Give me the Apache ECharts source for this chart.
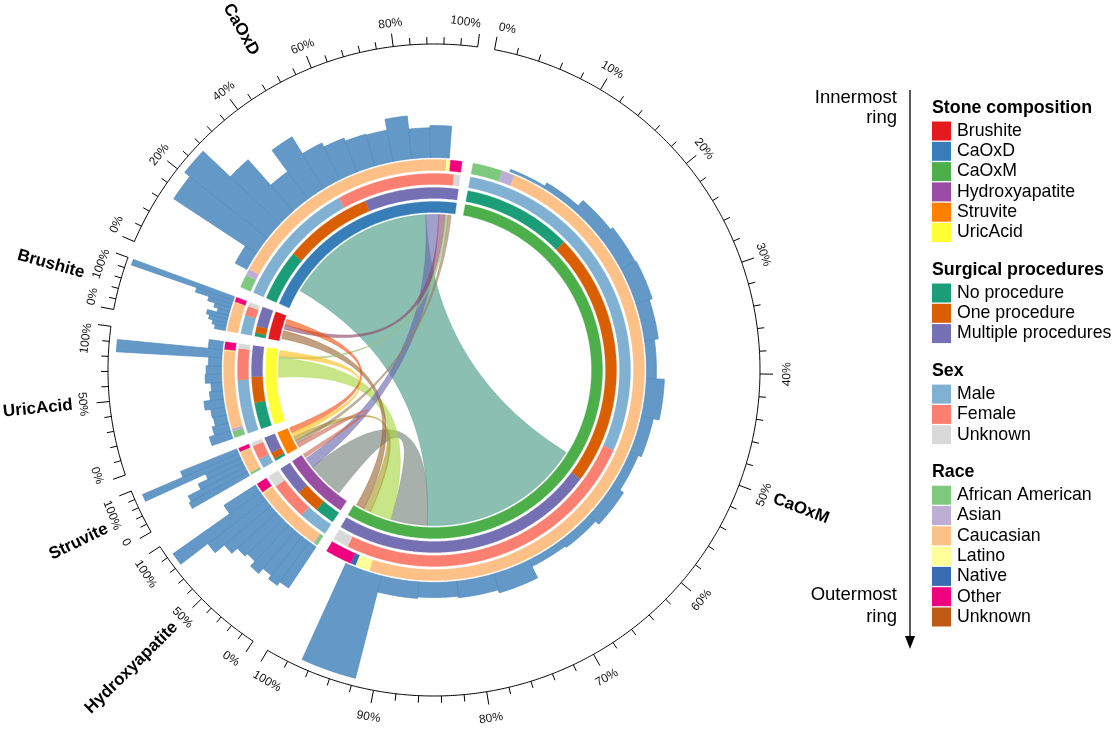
<!DOCTYPE html>
<html>
<head>
<meta charset="utf-8">
<script src="https://cdn.jsdelivr.net/npm/echarts@6/dist/echarts.min.js"></script>
<style>html,body{margin:0;padding:0;background:#fff}#c{width:1116px;height:735px}</style>
</head>
<body>
<div id="c"></div>
<script>
// ---------------- DATA ----------------
const sectors = ['CaOxM', 'Hydroxyapatite', 'Struvite', 'UricAcid', 'Brushite', 'CaOxD'];
const sectorSize = [200, 23.5, 8, 26.5, 9.5, 74.5];

const stoneCats = ['Brushite', 'CaOxD', 'CaOxM', 'Hydroxyapatite', 'Struvite', 'UricAcid'];
const stoneColors = ['#e41a1c', '#377eb8', '#4daf4a', '#984ea3', '#ff7f00', '#ffff33'];
const procCats = ['No procedure', 'One procedure', 'Multiple procedures'];
const procColors = ['#1b9e77', '#d95f02', '#7570b3'];
const sexCats = ['Male', 'Female', 'Unknown'];
const sexColors = ['#80b1d3', '#fb8072', '#d9d9d9'];
const raceCats = ['African American', 'Asian', 'Caucasian', 'Latino', 'Native', 'Other', 'Unknown'];
const raceColors = ['#7fc97f', '#beaed4', '#fdc086', '#ffff99', '#386cb0', '#f0027f', '#bf5b17'];

// shares (% of sector, clockwise) per sector, same order as `sectors`: [categoryIndex, share]
const procShares = [
  [[0, 17.4], [1, 40.6], [2, 42.0]],
  [[0, 27], [1, 33], [2, 40]],
  [[0, 10], [1, 25], [2, 65]],
  [[0, 32], [1, 31], [2, 37]],
  [[0, 11], [1, 23], [2, 66]],
  [[0, 22], [1, 38], [2, 40]]
];
const sexShares = [
  [[0, 51.7], [1, 46.0], [2, 2.3]],
  [[0, 37], [1, 48], [2, 15]],
  [[0, 35], [1, 53], [2, 12]],
  [[0, 60], [1, 35], [2, 5]],
  [[0, 58], [1, 29], [2, 13]],
  [[0, 50.8], [1, 46.7], [2, 2.5]]
];
const raceShares = [
  [[0, 4.1], [1, 1.8], [2, 87.7], [3, 2.0], [4, 0.7], [5, 3.7]],
  [[0, 4], [1, 1.5], [2, 81.5], [3, 1.5], [5, 11.5]],
  [[0, 8], [2, 77], [3, 2], [5, 13]],
  [[0, 7], [1, 3], [2, 81], [3, 1], [5, 8]],
  [[2, 87], [5, 13]],
  [[0, 4.8], [1, 2.5], [2, 86.9], [3, 1.5], [5, 4.3]]
];

// outer bar track: bin width (% of sector) and bar heights (% of track)
const barBinWidth = [5.1, 10, 16.667, 8.333, 11.11, 6.8];
const barValues = [
  [0, 2, 5.5, 12, 14.5, 15.5, 12.7, 9, 16.4, 11, 8, 12, 8, 6.4, 17.9, 15, 13.6, 15, 96, 0],
  [45, 49, 45, 51, 45, 48, 55, 66, 97, 34],
  [60, 58, 45, 35, 95, 55],
  [20, 15, 12, 13, 18, 12, 10, 15, 14, 12, 96, 13],
  [10, 13, 17, 20, 11, 15, 22, 35, 98],
  [0, 12, 90, 96, 62, 31, 55, 37, 33, 30, 29, 39, 27, 29, 0]
];

// links: [sectorA, fromPct, toPct, sectorB, fromPct, toPct]
const links = [
  ['CaOxM', 55.6, 85.9, 'CaOxD', 10, 85.5],
  ['CaOxM', 85.9, 92.7, 'Hydroxyapatite', 17, 75],
  ['CaOxM', 92.7, 96.7, 'UricAcid', 61, 87.5],
  ['CaOxM', 96.7, 98.1, 'Struvite', 35, 55],
  ['CaOxM', 98.1, 99.6, 'Brushite', 10, 42],
  ['Hydroxyapatite', 75, 92, 'CaOxD', 85.5, 92],
  ['Brushite', 48, 65, 'CaOxD', 92, 95.3],
  ['UricAcid', 87.5, 90, 'CaOxD', 95.3, 96.6],
  ['Struvite', 20, 35, 'CaOxD', 96.6, 98.2],
  ['Hydroxyapatite', 94, 100, 'Struvite', 0, 20],
  ['Struvite', 75, 100, 'Brushite', 65, 88],
  ['Struvite', 55, 75, 'UricAcid', 90, 98]
];

// axis ticks per sector (percent): minor step, labelled step
const tickMinor = [2, 10, 20, 10, 20, 4];
const tickMajor = [10, 50, 100, 50, 100, 20];

// ---------------- LAYOUT / STYLE ----------------
const GAP = 3;
const START_DEG = 10.7;
const RINGS = [[157.5, 168.5], [171.5, 182.5], [185.5, 196.5], [199.5, 210.5]];
const BAR_BASE = 212.5, BAR_LEN = 110;
const CHORD_R = 155.5;
const AXIS_R = 326, TICK_MAJ = 13, TICK_MIN = 7, LABEL_R_TOP = 349, LABEL_R_BOT = 353, NAME_R = 363;
const FONT = '"Liberation Sans", Arial, Helvetica, sans-serif';

const sectorStart = [];
(function () { let acc = 0; sectorSize.forEach((s) => { sectorStart.push(acc); acc += s + GAP; }); })();
function pos(si, pct) { return sectorStart[si] + sectorSize[si] * pct / 100; }

function hexRgb(h) { h = h.replace('#', ''); return [0, 2, 4].map(i => parseInt(h.substr(i, 2), 16)); }
function mix(c1, c2) {
  const a = hexRgb(c1), b = hexRgb(c2);
  return 'rgb(' + a.map((v, i) => Math.round((v + b[i]) / 2)).join(',') + ')';
}

// ring segments
const ringMarks = [];
sectors.forEach((sec, si) => {
  ringMarks.push({ r0: RINGS[0][0], r1: RINGS[0][1], a0: pos(si, 0), a1: pos(si, 100), color: stoneColors[stoneCats.indexOf(sec)] });
  [[procShares, procColors], [sexShares, sexColors], [raceShares, raceColors]].forEach(([shares, colors], k) => {
    const list = shares[si];
    const tot = list.reduce((s, d) => s + d[1], 0);
    let p = 0;
    list.forEach(([ci, sh]) => {
      const p1 = p + sh / tot * 100;
      ringMarks.push({ r0: RINGS[k + 1][0], r1: RINGS[k + 1][1], a0: pos(si, p), a1: pos(si, p1), color: colors[ci] });
      p = p1;
    });
  });
});

// bars
const barMarks = [];
sectors.forEach((sec, si) => {
  const w = barBinWidth[si];
  barValues[si].forEach((v, k) => {
    if (v <= 0) return;
    const p0 = k * w, p1 = Math.min(100, (k + 1) * w);
    barMarks.push({ a0: pos(si, p0), a1: pos(si, p1), r0: BAR_BASE, r1: BAR_BASE + v / 100 * BAR_LEN });
  });
});

// links
const linkMarks = links.map(l => {
  const ia = sectors.indexOf(l[0]), ib = sectors.indexOf(l[3]);
  let A = [pos(ia, l[1]), pos(ia, l[2])], B = [pos(ib, l[4]), pos(ib, l[5])];
  if (A[0] > B[0]) { const t = A; A = B; B = t; }
  const col = mix(stoneColors[stoneCats.indexOf(l[0])], stoneColors[stoneCats.indexOf(l[3])]);
  return { A, B, color: col };
});

// ticks & labels
const tickMarks = [], labelMarks = [];
sectors.forEach((sec, si) => {
  for (let p = 0; p <= 100 + 1e-6; p += tickMinor[si]) {
    const pp = Math.round(p * 1000) / 1000;
    const major = Math.abs(pp / tickMajor[si] - Math.round(pp / tickMajor[si])) < 1e-6;
    tickMarks.push({ a: pos(si, pp), len: major ? TICK_MAJ : TICK_MIN });
    if (major) {
      let txt = Math.round(pp) + '%';
      if (sec === 'Struvite' && pp === 0) txt = '0';
      labelMarks.push({ a: pos(si, pp), text: txt, where: pp === 0 ? 'first' : (pp >= 100 ? 'last' : 'mid') });
    }
  }
});
const nameMarks = sectors.map((s, si) => ({ a: pos(si, 50), text: s }));

// ---------------- DRAW HELPERS ----------------
function arc(api, r, a0, a1) {
  const n = Math.max(2, Math.ceil(Math.abs(a1 - a0) / 0.4) + 1);
  const out = [];
  for (let k = 0; k < n; k++) out.push(api.coord([r, a0 + (a1 - a0) * k / (n - 1)]));
  return out;
}
function band(api, r0, r1, a0, a1) { return arc(api, r1, a0, a1).concat(arc(api, r0, a1, a0)); }
function quad(p0, c, p2, n) {
  const out = [];
  for (let k = 1; k < n; k++) {
    const t = k / n, u = 1 - t;
    out.push([u * u * p0[0] + 2 * t * u * c[0] + t * t * p2[0], u * u * p0[1] + 2 * t * u * c[1] + t * t * p2[1]]);
  }
  return out;
}
function theta(api, p) {
  const c = api.coord([0, 0]);
  return (Math.atan2(p[0] - c[0], -(p[1] - c[1])) * 180 / Math.PI + 360) % 360;
}

const base = { type: 'custom', coordinateSystem: 'polar', silent: true, animation: false };

const option = {
  animation: false,
  polar: { center: [434, 370], radius: 440 },
  angleAxis: { type: 'value', min: 0, max: 360, startAngle: 90 - START_DEG, clockwise: true, show: false },
  radiusAxis: { type: 'value', min: 0, max: 440, show: false },
  series: [
    Object.assign({}, base, {
      name: 'rings', z: 2,
      data: ringMarks.map(m => [(m.r0 + m.r1) / 2, (m.a0 + m.a1) / 2]),
      renderItem: (params, api) => {
        const m = ringMarks[params.dataIndex];
        return { type: 'polygon', shape: { points: band(api, m.r0, m.r1, m.a0, m.a1) }, style: { fill: m.color, stroke: m.color, lineWidth: 0.3 } };
      }
    }),
    Object.assign({}, base, {
      name: 'bars', z: 2,
      data: barMarks.map(m => [(m.r0 + m.r1) / 2, (m.a0 + m.a1) / 2]),
      renderItem: (params, api) => {
        const m = barMarks[params.dataIndex];
        return { type: 'polygon', shape: { points: band(api, m.r0, m.r1, m.a0, m.a1) }, style: { fill: '#6499c7', stroke: '#4f89bf', lineWidth: 0.7 } };
      }
    }),
    Object.assign({}, base, {
      name: 'links', z: 3,
      data: linkMarks.map(m => [CHORD_R, m.A[0]]),
      renderItem: (params, api) => {
        const m = linkMarks[params.dataIndex];
        const A = arc(api, CHORD_R, m.A[0], m.A[1]), B = arc(api, CHORD_R, m.B[0], m.B[1]);
        const C = api.coord([0, 0]);
        const pts = A.concat(quad(A[A.length - 1], C, B[0], 60), B, quad(B[B.length - 1], C, A[0], 60));
        return { type: 'polygon', shape: { points: pts }, style: { fill: m.color, opacity: 0.62, stroke: m.color, lineWidth: 0.6 } };
      }
    }),
    Object.assign({}, base, {
      name: 'axisLine', z: 4,
      data: sectors.map((s, si) => [AXIS_R, pos(si, 50)]),
      renderItem: (params, api) => {
        const si = params.dataIndex;
        return { type: 'polyline', shape: { points: arc(api, AXIS_R, pos(si, 0), pos(si, 100)) }, style: { stroke: '#000', lineWidth: 1, fill: null } };
      }
    }),
    Object.assign({}, base, {
      name: 'ticks', z: 4,
      data: tickMarks.map(m => [AXIS_R, m.a]),
      renderItem: (params, api) => {
        const m = tickMarks[params.dataIndex];
        const p0 = api.coord([AXIS_R, m.a]), p1 = api.coord([AXIS_R + m.len, m.a]);
        return { type: 'line', shape: { x1: p0[0], y1: p0[1], x2: p1[0], y2: p1[1] }, style: { stroke: '#000', lineWidth: 1 } };
      }
    }),
    Object.assign({}, base, {
      name: 'tickLabels', z: 5,
      data: labelMarks.map(m => [LABEL_R_TOP, m.a]),
      renderItem: (params, api) => {
        const m = labelMarks[params.dataIndex];
        const th = theta(api, api.coord([LABEL_R_TOP, m.a]));
        const flipped = th > 90 && th < 270;
        const p = api.coord([flipped ? LABEL_R_BOT : LABEL_R_TOP, m.a]);
        const cw = flipped ? th - 180 : th;
        let align = 'center';
        if (m.where === 'first') align = flipped ? 'right' : 'left';
        if (m.where === 'last') align = flipped ? 'left' : 'right';
        return { type: 'text', x: p[0], y: p[1], rotation: -cw * Math.PI / 180,
          style: { text: m.text, fill: '#111', font: '12px ' + FONT, textAlign: align, textVerticalAlign: 'middle' } };
      }
    }),
    Object.assign({}, base, {
      name: 'names', z: 5,
      data: nameMarks.map(m => [NAME_R, m.a]),
      renderItem: (params, api) => {
        const m = nameMarks[params.dataIndex];
        const p = api.coord([NAME_R, m.a]);
        const th = theta(api, p);
        let cw, align;
        if (th < 180) { cw = th - 90; align = 'left'; } else { cw = th - 270; align = 'right'; }
        return { type: 'text', x: p[0], y: p[1], rotation: -cw * Math.PI / 180,
          style: { text: m.text, fill: '#000', font: 'bold 17px ' + FONT, textAlign: align, textVerticalAlign: 'middle' } };
      }
    })
  ],
  graphic: []
};

// ---------------- LEGEND ----------------
const legendGroups = [
  ['Stone composition', stoneCats, stoneColors],
  ['Surgical procedures', procCats, procColors],
  ['Sex', sexCats, sexColors],
  ['Race', raceCats, raceColors]
];
const g = [];
let y = 108;
legendGroups.forEach(([title, cats, colors]) => {
  g.push({ type: 'text', x: 932, y: y, style: { text: title, font: 'bold 17.8px ' + FONT, fill: '#000', textAlign: 'left', textVerticalAlign: 'middle' } });
  let last = y;
  cats.forEach((c, k) => {
    const yy = y + 23 + k * 20.3;
    g.push({ type: 'rect', shape: { x: 932, y: yy - 9.5, width: 19, height: 19 }, style: { fill: colors[k] } });
    g.push({ type: 'text', x: 957, y: yy, style: { text: c, font: '17.7px ' + FONT, fill: '#000', textAlign: 'left', textVerticalAlign: 'middle' } });
    last = yy;
  });
  y = last + 37.5;
});
g.push({ type: 'line', shape: { x1: 910, y1: 90, x2: 910, y2: 640 }, style: { stroke: '#000', lineWidth: 1.3 } });
g.push({ type: 'polygon', shape: { points: [[905, 636], [915, 636], [910, 649]] }, style: { fill: '#000' } });
[['Innermost', 98], ['ring', 118], ['Outermost', 595], ['ring', 617]].forEach(([t, yy]) => {
  g.push({ type: 'text', x: 897, y: yy, style: { text: t, font: '18.5px ' + FONT, fill: '#000', textAlign: 'right', textVerticalAlign: 'middle' } });
});
option.graphic = g;

const chart = echarts.init(document.getElementById('c'));
chart.setOption(option);
</script>
</body>
</html>
